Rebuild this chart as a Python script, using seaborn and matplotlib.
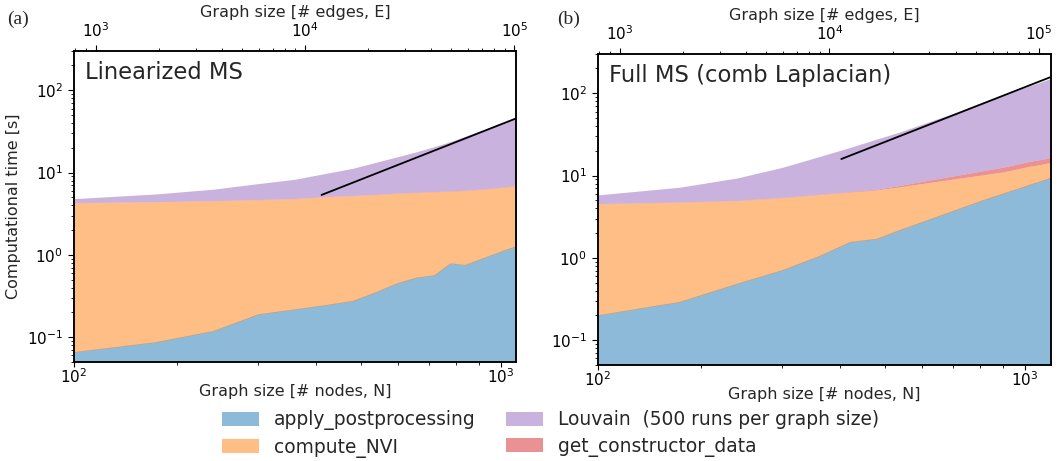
import numpy as np
import matplotlib
matplotlib.use("Agg")
import matplotlib.pyplot as plt
import matplotlib.ticker as mticker
from matplotlib.patches import Patch
import seaborn as sns

# ---------------- data ----------------
N_lin = [120, 180, 240, 300, 360, 420, 480, 540, 600, 660, 720, 780, 840, 900, 960, 1020, 1080]
N_full = [120, 180, 240, 300, 360, 420, 480, 540, 600, 660, 720, 780, 840, 900, 960, 1020, 1080, 1140]

# (a) Linearized MS
lin_post = [0.066, 0.087, 0.119, 0.190, 0.218, 0.246, 0.276, 0.355, 0.455, 0.530, 0.567, 0.790, 0.757, 0.877, 1.00, 1.14, 1.27]
lin_nvi = [4.24, 4.33, 4.43, 4.49, 4.60, 4.85, 4.97, 5.05, 5.15, 5.19, 5.28, 5.16, 5.29, 5.37, 5.45, 5.51, 5.63]
lin_constr = [0.02, 0.02, 0.02, 0.03, 0.03, 0.03, 0.04, 0.04, 0.05, 0.05, 0.05, 0.06, 0.06, 0.07, 0.07, 0.08, 0.08]
lin_louvain = [0.50, 1.06, 1.72, 2.64, 3.45, 4.67, 6.0, 7.96, 9.95, 12.2, 14.8, 17.8, 21.6, 25.6, 29.9, 34.6, 39.2]

# (b) Full MS (comb Laplacian)
full_post = [0.201, 0.292, 0.487, 0.71, 1.05, 1.56, 1.71, 2.2, 2.72, 3.30, 3.93, 4.62, 5.35, 6.06, 6.83, 7.66, 8.5, 9.4]
full_nvi = [4.34, 4.46, 4.48, 4.69, 4.84, 4.74, 4.99, 5.13, 5.28, 5.35, 5.34, 5.28, 5.15, 5.04, 5.17, 5.24, 5.1, 5.1]
full_constr = [0.03, 0.03, 0.04, 0.05, 0.06, 0.09, 0.13, 0.3, 0.5, 0.7, 0.9, 1.1, 1.35, 1.6, 1.75, 1.9, 2.05, 2.2]
full_louvain = [1.26, 2.44, 4.37, 7.15, 11.05, 15.6, 21.0, 26.5, 33.5, 41.4, 49.8, 60.6, 71.0, 82.3, 94.3, 107.2, 120.4, 135.3]

# reference lines (linear in number of edges)
lin_ref_E = [12000, 102000]
lin_ref_t = [5.35, 45.5]
full_ref_E = [11400, 114000]
full_ref_t = [15.9, 158.0]

lin_E_lim = (787, 102000)
full_E_lim = (788, 114000)
t_lim = (0.05, 300)

labels = ["apply_postprocessing", "compute_NVI", "get_constructor_data",
          "Louvain  (500 runs per graph size)"]
titles = ["Linearized MS", "Full MS (comb Laplacian)"]
panel_tags = ["(a)", "(b)"]

# ---------------- style ----------------
sns.set_style("ticks")
plt.rcParams["font.family"] = ["DejaVu Sans"]
plt.rcParams["axes.linewidth"] = 1.1
plt.rcParams["xtick.major.size"] = 4.5
plt.rcParams["ytick.major.size"] = 4.5
plt.rcParams["xtick.minor.size"] = 2.5
plt.rcParams["ytick.minor.size"] = 2.5
plt.rcParams["xtick.color"] = "black"
plt.rcParams["ytick.color"] = "black"
plt.rcParams["axes.edgecolor"] = "black"

pal = sns.color_palette("tab10")
colors = [pal[0], pal[1], pal[3], pal[4]]

W, H = 1059, 461
fig = plt.figure(figsize=(W / 100, H / 100), dpi=100)

boxes = [(74, 516, 51, 362), (598, 1051, 54, 365)]
Ns = [N_lin, N_full]
series = [(lin_post, lin_nvi, lin_constr, lin_louvain),
          (full_post, full_nvi, full_constr, full_louvain)]
refs = [(lin_ref_E, lin_ref_t), (full_ref_E, full_ref_t)]
E_lims = [lin_E_lim, full_E_lim]

for i, (x0, x1, yt, yb) in enumerate(boxes):
    ax = fig.add_axes([x0 / W, (H - yb) / H, (x1 - x0) / W, (yb - yt) / H])
    ax.set_xscale("log")
    ax.set_yscale("log")
    ax.stackplot(Ns[i], *series[i], colors=colors, alpha=0.5, linewidth=0)
    ax.set_xlim(Ns[i][0], Ns[i][-1])
    ax.set_ylim(*t_lim)
    ax.xaxis.set_major_locator(mticker.FixedLocator([Ns[i][0], 1000]))
    ax.xaxis.set_major_formatter(mticker.FixedFormatter([r"$\mathdefault{10^{2}}$", r"$\mathdefault{10^{3}}$"]))
    ax.xaxis.set_minor_locator(mticker.FixedLocator([200, 300, 400, 500, 600, 700, 800, 900]))
    ax.xaxis.set_minor_formatter(mticker.NullFormatter())
    ax.yaxis.set_major_locator(mticker.LogLocator(base=10, numticks=10))
    ax.yaxis.set_minor_locator(mticker.LogLocator(base=10, subs=np.arange(2, 10), numticks=20))
    ax.yaxis.set_minor_formatter(mticker.NullFormatter())
    ax.tick_params(labelsize=11)
    ax.tick_params(axis="x", which="major", length=3.5, pad=0.5)
    ax.tick_params(axis="x", which="minor", length=2.5)
    ax.set_xlabel("Graph size [# nodes, N]", fontsize=11.5, labelpad=-1.5)
    if i == 0:
        ax.set_ylabel("Computational time [s]", fontsize=11.5, labelpad=4)
    ax.text(0.025, 0.932, titles[i], transform=ax.transAxes, fontsize=16.3,
            ha="left", va="center")

    axt = ax.twiny()
    axt.set_xscale("log")
    axt.set_xlim(*E_lims[i])
    sns.lineplot(x=refs[i][0], y=refs[i][1], ax=axt, color="black", linewidth=1.3)
    axt.set_xlim(*E_lims[i])
    axt.set_ylim(*t_lim)
    axt.tick_params(labelsize=11)
    axt.xaxis.set_minor_formatter(mticker.NullFormatter())
    axt.set_xlabel("Graph size [# edges, E]", fontsize=11.5, labelpad=3)

    fig.text((7 if i == 0 else 557) / W, (H - 19) / H, panel_tags[i],
             fontsize=14, family="Liberation Serif", ha="left", va="center")

handles = [Patch(facecolor=colors[0], alpha=0.5, edgecolor="none"),
           Patch(facecolor=colors[1], alpha=0.5, edgecolor="none"),
           Patch(facecolor=colors[3], alpha=0.5, edgecolor="none"),
           Patch(facecolor=colors[2], alpha=0.5, edgecolor="none")]
leg_labels = [labels[0], labels[1], labels[3], labels[2]]
fig.legend(handles, leg_labels, loc="center", bbox_to_anchor=(0.52, (H - 434) / H),
           ncol=2, frameon=False, fontsize=13.4, handlelength=2.0,
           handleheight=0.8, labelspacing=0.4, columnspacing=1.6)

fig.savefig("out.png", dpi=100)
